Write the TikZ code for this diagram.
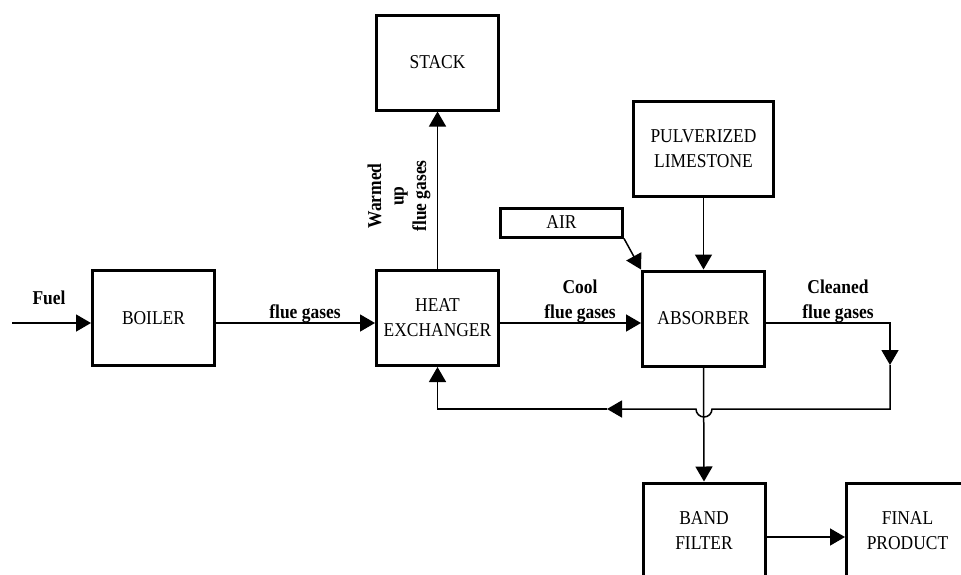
\documentclass[tikz,border=0pt]{standalone}
\usepackage{fontspec}
\setmainfont{Liberation Serif}[FakeStretch=0.89]
\usetikzlibrary{arrows.meta,calc}
\newcommand{\plantsize}{\fontsize{19.6pt}{25pt}\selectfont}
\tikzset{
  unit/.style={draw, line width=3pt, minimum width=122pt, minimum height=95pt, inner sep=0pt, align=center},
  feed/.style={draw, line width=3pt, minimum width=122pt, minimum height=29pt, inner sep=0pt},
  flow/.style={-{Triangle[length=15pt, width=17pt]}, line width=1.5pt},
  tag/.style={font=\plantsize\bfseries, align=center, inner sep=0pt},
}
\begin{document}
\begin{tikzpicture}[x=1pt, y=-1pt, font=\plantsize]
  \clip (0,0) rectangle (961,574);
  % process units
  \node[unit] (stack) at (437.5,62.5) {STACK};
  \node[unit] (boiler) at (153.5,318) {BOILER};
  \node[unit] (hx) at (437.5,318) {HEAT\\EXCHANGER};
  \node[unit] (absorber) at (703.5,318.5) {ABSORBER};
  \node[unit, minimum width=140pt] (lime) at (703.5,148.5) {PULVERIZED\\LIMESTONE};
  \node[feed] (air) at (561.5,222.5) {AIR};
  \node[unit] (band) at (704,530.5) {BAND\\FILTER};
  \node[unit] (final) at (907.5,530.5) {FINAL\\PRODUCT};
  % helper points
  \coordinate (mid) at (0,323);
  \coordinate (fuelin) at (12,323);
  \coordinate (c1) at (890,323);
  \coordinate (c2) at (890,365);
  \coordinate (c3) at (890,409);
  \coordinate (jr) at (712,409);
  \coordinate (c4) at (607,409);
  \coordinate (c5) at (437.5,409);
  \coordinate (out) at (0,537);
  % stream labels
  \node[tag, anchor=south] (fuel) at (49,305) {Fuel};
  \node[tag, anchor=south] (fg) at (305,323) {flue gases};
  \node[tag, anchor=south] (cool) at (580,323) {Cool\\flue gases};
  \node[tag, anchor=south] (clean) at (838,323) {Cleaned\\flue gases};
  \node[tag, rotate=90, font=\fontsize{19.6pt}{22.5pt}\selectfont\bfseries] (warm) at (399,196) {Warmed\\up\\flue gases};
  % streams
  \draw[flow] (fuelin) -- (boiler.west |- mid);
  \draw[flow] (boiler.east |- mid) -- (hx.west |- mid);
  \draw[flow] (hx.east |- mid) -- (absorber.west |- mid);
  \draw[flow] (hx.north) -- (stack.south);
  \draw[flow] (air.south east) -- (absorber.north west);
  \draw[flow] (lime.south) -- (absorber.north);
  \draw[flow] (absorber.south) -- (band.north);
  \draw[flow] (band.east |- out) -- (final.west |- out);
  \draw[flow] (absorber.east |- mid) -- (c1) -- (c2);
  \draw[flow] (c2) -- (c3) -- (jr) arc (0:180:8) -- (c4);
  \draw[flow] (c4) -- (c5) -- (hx.south);
\end{tikzpicture}
\end{document}
